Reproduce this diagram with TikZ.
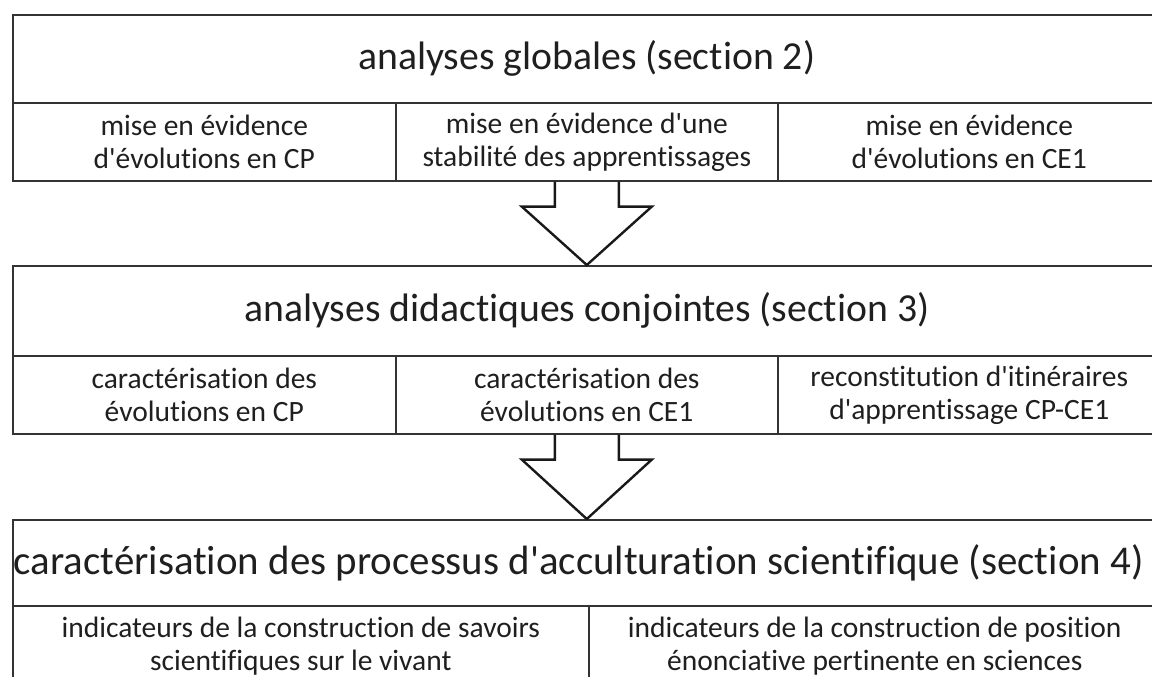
\documentclass[tikz,border=0pt]{standalone}
\usepackage{fontspec}
\setmainfont{Carlito}[Ligatures={TeXOff,NoCommon}]
\usetikzlibrary{calc}

\begin{document}
\begin{tikzpicture}[x=1pt,y=-1pt,line join=miter,
                cell/.style={draw=black!80,line width=1.6pt,anchor=north west,inner sep=0pt,align=center,text=black!88},
                title node/.style={cell,minimum width=1148pt,minimum height=88pt,font=\fontsize{39.7}{48}\selectfont},
                sub node/.style={cell,minimum height=78pt,font=\fontsize{29.5}{33}\selectfont},
                block arrow/.style={draw=black!90,line width=2.4pt}]

  \useasboundingbox (0,0) rectangle (1152,677);

  % bloc 1
  \node[title node] (t1) at (12,14) {analyses globales (section 2)};
  \node[sub node,minimum width=383pt] (a1) at (12,102) {mise en évidence\\d'évolutions en CP};
  \node[sub node,minimum width=382pt] (b1) at (395,102) {mise en évidence d'une\\stabilité des apprentissages};
  \node[sub node,minimum width=383pt] (c1) at (777,102) {mise en évidence\\d'évolutions en CE1};

  % bloc 2
  \node[title node,minimum height=90pt] (t2) at (12,265) {analyses didactiques conjointes (section 3)};
  \node[sub node,minimum width=383pt] (a2) at (12,355) {caractérisation des\\évolutions en CP};
  \node[sub node,minimum width=382pt] (b2) at (395,355) {caractérisation des\\évolutions en CE1};
  \node[sub node,minimum width=383pt] (c2) at (777,355) {reconstitution d'itinéraires\\d'apprentissage CP-CE1};

  % bloc 3
  \node[title node,minimum height=86pt,font=\fontsize{40.9}{48}\selectfont] (t3) at (12,519) {\hspace*{-16pt}caractérisation des processus d'acculturation scientifique (section 4)};
  \node[sub node,minimum width=576pt,minimum height=80pt] (a3) at (12,605) {indicateurs de la construction de savoirs\\scientifiques sur le vivant};
  \node[sub node,minimum width=572pt,minimum height=80pt] (b3) at (588,605) {indicateurs de la construction de position\\énonciative pertinente en sciences};

  % fleches
  \draw[block arrow] ($(b1.south)+(-32,0)$) -- ++(0,25) -- ++(-33,0) -- (t2.north)
    -- ($(b1.south)+(65,25)$) -- ++(-33,0) -- ++(0,-25);
  \draw[block arrow] ($(b2.south)+(-32,0)$) -- ++(0,25) -- ++(-33,0) -- (t3.north)
    -- ($(b2.south)+(65,25)$) -- ++(-33,0) -- ++(0,-25);

\end{tikzpicture}
\end{document}
